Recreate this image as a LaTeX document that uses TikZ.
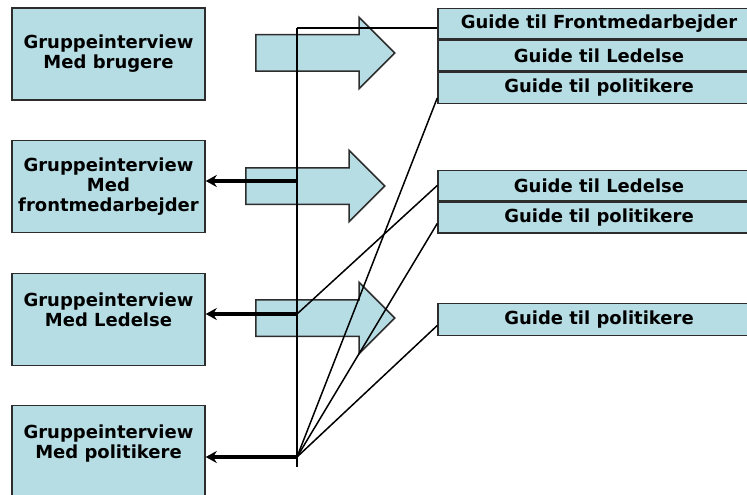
\documentclass[tikz,border=0pt]{standalone}
\usepackage{fontspec}
\setmainfont{DejaVu Sans}
\usepackage{tikz}
\usetikzlibrary{arrows.meta,positioning,shapes.arrows}
\definecolor{boxfill}{RGB}{183,221,228}
\definecolor{boxline}{RGB}{45,45,45}

\begin{document}
\begin{tikzpicture}[x=1pt, y=-1pt,
  lbox/.style={draw=boxline, fill=boxfill, line width=1.5pt, minimum width=193pt, minimum height=92pt, inner sep=0pt, align=center, font=\bfseries\fontsize{18}{20}\selectfont},
  gbox/.style={draw=boxline, fill=boxfill, line width=1.5pt, minimum width=322pt, minimum height=30.5pt, inner sep=0pt, font=\bfseries\fontsize{18}{20}\selectfont},
  fat/.style={single arrow, draw=boxline, fill=boxfill, line width=1.5pt, inner sep=17.5pt, single arrow head extend=17.5pt, minimum height=139pt, anchor=tail},
  link/.style={line width=1.5pt},
  feed/.style={line width=3.4pt, -{Stealth[length=11pt,width=12pt]}}]
\useasboundingbox (0,0) rectangle (747,495);
% Group interviews
\node[lbox] (brug) at (108.5,54) {Gruppeinterview\\Med brugere};
\node[lbox] (front) at (108.5,186.5) {Gruppeinterview\\Med\\frontmedarbejder};
\node[lbox] (led) at (108.5,319.5) {Gruppeinterview\\Med Ledelse\\\mbox{}};
\node[lbox] (pol) at (108.5,451.5) {Gruppeinterview\\Med politikere\\\mbox{}};
% Block arrows
\node[fat] (arw1) at (255,53) {};
\node[fat] (arw2) at (245,186) {};
\node[fat] (arw3) at (255,318) {};
% Guides
\node[gbox] (gfront1) at (599,24) {Guide til Frontmedarbejder};
\node[gbox, below=0pt of gfront1] (gled1) {Guide til Ledelse};
\node[gbox, below=0pt of gled1] (gpol1) {Guide til politikere};
\node[gbox] (gled2) at (599,185.5) {Guide til Ledelse};
\node[gbox, below=0pt of gled2] (gpol2) {Guide til politikere};
\node[gbox, minimum height=32pt] (gpol3) at (599,319.5) {Guide til politikere};
% Trunk line
\coordinate (ttop) at (297,28);
\coordinate (tbot) at (297,467);
\coordinate (jfront) at (297,181);
\coordinate (jled) at (297,314);
\coordinate (jpol) at (297,457);
\draw[link] (ttop) -- (tbot);
\draw[link] (ttop) -- (ttop -| gfront1.west);
% Feedback to interviews
\draw[feed] (jfront) -- (jfront -| front.east);
\draw[feed] (jled) -- (jled -| led.east);
\draw[feed] (jpol) -- (jpol -| pol.east);
% Links to guides
\draw[link] (jled) -- (gled2.west);
\draw[link] (jpol) -- ([yshift=-10pt]gpol1.west);
\draw[link] (jpol) -- ([yshift=-6pt]gpol2.west);
\draw[link] (jpol) -- ([yshift=-6pt]gpol3.west);
\end{tikzpicture}
\end{document}
